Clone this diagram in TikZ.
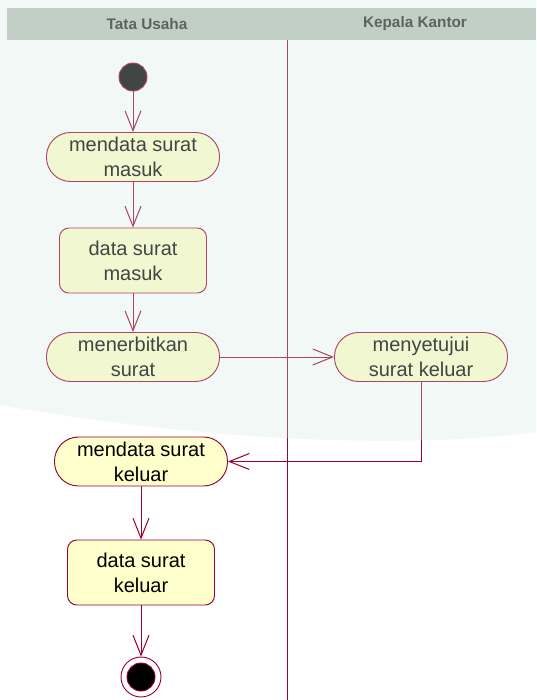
\documentclass[tikz,border=0pt]{standalone}
\usepackage{fontspec}
\setmainfont{Liberation Sans}
\usetikzlibrary{arrows.meta}

\definecolor{wire}{HTML}{990033}
\definecolor{actfill}{HTML}{FFFFCC}
\definecolor{lanehead}{HTML}{BCC4BE}
\definecolor{headtext}{HTML}{2A2A2A}
\definecolor{haze}{HTML}{D2EADF}

\tikzset{
  boxfont/.style={font=\fontsize{15}{18.75}\selectfont},
  act/.style={draw=wire, line width=0.7pt, fill=actfill, rounded corners=18pt,
    minimum width=129.75pt, minimum height=36.75pt, align=center, inner sep=0pt, boxfont},
  datum/.style={draw=wire, line width=0.7pt, fill=actfill, rounded corners=7pt,
    minimum width=110.25pt, minimum height=48.75pt, align=center, inner sep=0pt, boxfont},
  startdot/.style={circle, draw=wire, line width=0.7pt, fill=black, minimum size=21pt, inner sep=0pt},
  endring/.style={circle, draw=wire, line width=0.7pt, fill=white, minimum size=30pt, inner sep=0pt},
  enddot/.style={circle, draw=wire, line width=0.7pt, fill=black, minimum size=21pt, inner sep=0pt},
  flow/.style={draw=wire, line width=0.75pt, -{Straight Barb[length=15pt,width=12pt]}},
  lane/.style={draw=wire, line width=0.6pt},
  headlabel/.style={font=\bfseries\fontsize{11.5}{13.5}\selectfont, text=headtext},
}

\begin{document}
\begin{tikzpicture}[x=0.75pt, y=-0.75pt]
  \useasboundingbox (0,0) rectangle (536,700);
  \fill[white] (0,0) rectangle (536,700);

  % swimlane header and separator
  \fill[lanehead] (7,8) rectangle (536,40);
  \node[headlabel] (laneA) at (147,24) {Tata Usaha};
  \node[headlabel] (laneB) at (415,24) {Kepala Kantor};
  \coordinate (sepTop) at (287,40);
  \coordinate (sepBot) at (287,700);
  \draw[lane] (sepTop) -- (sepBot);

  % activities
  \node[startdot] (init) at (133,77) {};
  \node[act]   (n1) at (133,157) {mendata surat\\masuk};
  \node[datum] (n2) at (133,260.5) {data surat\\masuk};
  \node[act]   (n3) at (133,357) {menerbitkan\\surat};
  \node[act]   (n4) at (421,357) {menyetujui\\surat keluar};
  \node[act]   (n5) at (141,461.5) {mendata surat\\keluar};
  \node[datum] (n6) at (141,572.5) {data surat\\keluar};
  \node[endring] (fin) at (141,677) {};
  \node[enddot] (finc) at (141,677) {};

  % control flow
  \draw[flow] (init) -- (n1);
  \draw[flow] (n1) -- (n2);
  \draw[flow] (n2) -- (n3);
  \draw[flow] (n3) -- (n4);
  \draw[flow] (n4.south) |- (n5);
  \draw[flow] (n5) -- (n6);
  \draw[flow] (n6) -- (fin);

  % pale tint over the upper part of the sheet
  \fill[haze, opacity=0.3] (0,0) -- (536,0) -- (536,432)
    .. controls (400,450) and (200,440) .. (0,405) -- cycle;
\end{tikzpicture}
\end{document}
